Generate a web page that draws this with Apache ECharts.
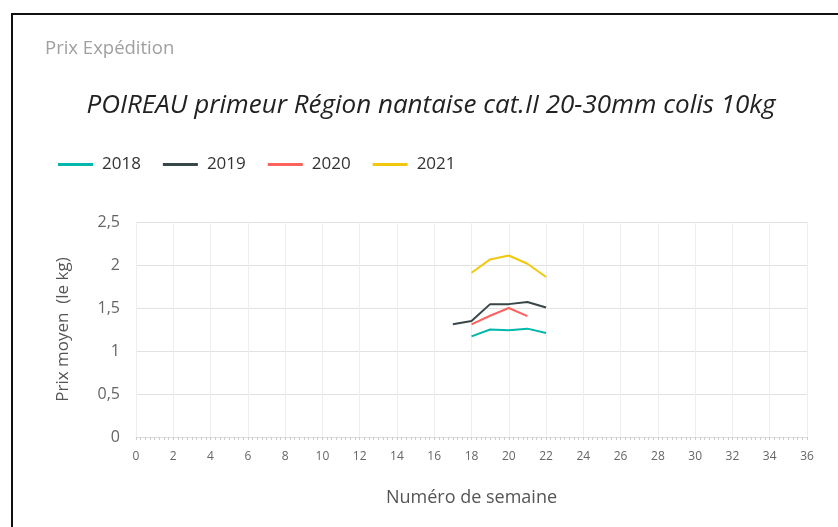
<!DOCTYPE html>
<html>
<head>
<meta charset="utf-8">
<script src="https://cdn.jsdelivr.net/npm/echarts@6/dist/echarts.min.js"></script>
<style>
html,body{margin:0;padding:0;background:#fff;}
#chart{width:838px;height:527px;}
</style>
</head>
<body>
<div id="chart"></div>
<script>
const seriesNames = ['2018', '2019', '2020', '2021'];
const seriesColors = ['#01B8AA', '#374649', '#FD625E', '#F2C80F'];
const data2018 = [[18, 1.17], [19, 1.25], [20, 1.24], [21, 1.26], [22, 1.21]];
const data2019 = [[17, 1.31], [18, 1.35], [19, 1.545], [20, 1.545], [21, 1.57], [22, 1.505]];
const data2020 = [[18, 1.31], [19, 1.41], [20, 1.50], [21, 1.405]];
const data2021 = [[18, 1.91], [19, 2.065], [20, 2.11], [21, 2.015], [22, 1.86]];
const allData = [data2018, data2019, data2020, data2021];

const chart = echarts.init(document.getElementById('chart'), null, {renderer: 'canvas'});
const FONT = 'Open Sans';
chart.setOption({
  animation: false,
  backgroundColor: '#fff',
  graphic: [{
    type: 'rect',
    shape: {x: 12, y: 14, width: 900, height: 600},
    style: {fill: 'none', stroke: '#111', lineWidth: 2}
  }, {
    type: 'text',
    left: 45, top: 39,
    style: {text: 'Prix Expédition', fill: '#a0a0a0', font: '18.5px "Open Sans"'}
  }, {
    type: 'text',
    x: 431, y: 106,
    style: {text: 'POIREAU primeur Région nantaise cat.II 20-30mm colis 10kg',
      fill: '#222', font: 'italic 26px "Open Sans"', align: 'center', verticalAlign: 'middle'}
  }],
  legend: {
    data: seriesNames,
    left: 53, top: 151,
    itemWidth: 35, itemHeight: 3, itemGap: 22,
    icon: 'rect',
    textStyle: {fontFamily: FONT, fontSize: 17, color: '#333', padding: [0,0,0,4]}
  },
  grid: {left: 136, right: 31, top: 222, bottom: 90, containLabel: false},
  xAxis: {
    type: 'value', min: 0, max: 36, interval: 2,
    name: 'Numéro de semaine', nameLocation: 'middle', nameGap: 52,
    nameTextStyle: {fontFamily: FONT, fontSize: 18, color: '#555'},
    axisLine: {show: true, lineStyle: {color: '#ddd'}},
    axisTick: {show: true, length: 3, lineStyle: {color: '#ccc'}},
    minorTick: {show: true, splitNumber: 8, length: 3, lineStyle: {color: '#ccc'}},
    axisLabel: {fontFamily: FONT, fontSize: 12, color: '#666', margin: 14},
    splitLine: {show: true, lineStyle: {color: '#eeeeee'}}
  },
  yAxis: {
    type: 'value', min: 0, max: 2.5, interval: 0.5,
    name: 'Prix moyen  (le kg)', nameLocation: 'middle', nameGap: 64,
    nameTextStyle: {fontFamily: FONT, fontSize: 17, color: '#555'},
    axisLine: {show: false}, axisTick: {show: false},
    axisLabel: {fontFamily: FONT, fontSize: 16, color: '#666', margin: 16,
      formatter: v => String(v).replace('.', ',')},
    splitLine: {show: true, lineStyle: {color: '#e2e2e2', width: 1}}
  },
  series: seriesNames.map((n, i) => ({
    name: n, type: 'line', data: allData[i],
    showSymbol: false, symbol: 'none',
    lineStyle: {width: 2, color: seriesColors[i]},
    itemStyle: {color: seriesColors[i]}
  }))
});
</script>
</body>
</html>
